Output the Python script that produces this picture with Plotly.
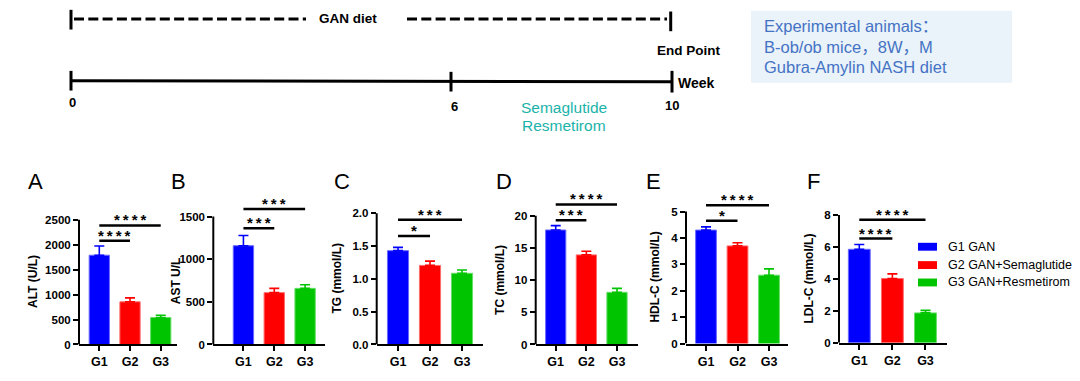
import plotly.graph_objects as go

# ---------------- data ----------------
categories = ["G1", "G2", "G3"]
group_labels = ["G1 GAN", "G2 GAN+Semaglutide", "G3 GAN+Resmetirom"]
panel_letters = ["A", "B", "C", "D", "E", "F"]
y_titles = ["ALT (U/L)", "AST U/L", "TG (mmol/L)", "TC (mmol/L)", "HDL-C (mmol/L)", "LDL-C (mmol/L)"]

alt_mean = [1790, 855, 540]
alt_err = [185, 80, 45]
ast_mean = [1158, 608, 658]
ast_err = [120, 50, 42]
tg_mean = [1.43, 1.205, 1.085]
tg_err = [0.05, 0.065, 0.05]
tc_mean = [17.8, 13.93, 8.11]
tc_err = [0.67, 0.56, 0.61]
hdl_mean = [4.30, 3.70, 2.59]
hdl_err = [0.12, 0.12, 0.24]
ldl_mean = [5.85, 4.02, 1.87]
ldl_err = [0.30, 0.29, 0.16]

y_ticks = [
    [0, 500, 1000, 1500, 2000, 2500],
    [0, 500, 1000, 1500],
    [0, 0.5, 1.0, 1.5, 2.0],
    [0, 5, 10, 15, 20],
    [0, 1, 2, 3, 4, 5],
    [0, 2, 4, 6, 8],
]
y_tickformat = ["d", "d", ".1f", "d", "d", "d"]

# significance brackets: (from group, to group, height, stars)
sig_A = [(0, 2, 2388, "****"), (0, 1, 2078, "****")]
sig_B = [(0, 2, 1589, "***"), (0, 1, 1362, "***")]
sig_C = [(0, 2, 1.90, "***"), (0, 1, 1.655, "*")]
sig_D = [(0, 2, 21.78, "****"), (0, 1, 19.33, "***")]
sig_E = [(0, 2, 5.24, "****"), (0, 1, 4.65, "*")]
sig_F = [(0, 2, 7.69, "****"), (0, 1, 6.52, "****")]

week_labels = ["0", "6", "10"]
treatments = ["Semaglutide", "Resmetirom"]
info_lines = ["Experimental animals：", "B-ob/ob mice，8W，M", "Gubra-Amylin NASH diet"]

means = [alt_mean, ast_mean, tg_mean, tc_mean, hdl_mean, ldl_mean]
errs = [alt_err, ast_err, tg_err, tc_err, hdl_err, ldl_err]
sigs = [sig_A, sig_B, sig_C, sig_D, sig_E, sig_F]

# ---------------- style / layout ----------------
W, H = 1080, 381
colors = ["#0000FF", "#FF0000", "#00C400"]
edge_colors = ["#6A6AFF", "#FF6A6A", "#66DD66"]
FONT = "Liberation Sans, Arial, Helvetica, sans-serif"
CJK = "Liberation Sans, Arial, Noto Sans CJK SC, sans-serif"
teal = "#1BB3AA"
boxblue = "#4472C4"


def px(x):
    return x / W


def py(y):
    return 1 - y / H


panel_x_px = [(79, 177), (213.3, 325), (376.7, 483), (535.7, 638), (686, 788), (839, 947.3)]
x_ranges = [(-0.661, 2.53), (-0.977, 2.645), (-0.666, 2.656), (-0.653, 2.685), (-0.635, 2.603), (-0.613, 2.659)]
y_zero_px = [350, 350, 350, 350, 349, 348.3]
y_range_top = [2960, 1731, 2.25, 22.95, 5.56, 9.13]
top_px = 200
letter_px = [(35, 184), (178, 184), (342, 184), (504, 184), (653, 184), (813, 184)]
ytitle_px = [(33, 286.5), (175.7, 285), (337, 283), (500.7, 284.7), (655, 282), (809, 283)]

fig = go.Figure()
shapes = []
annotations = []

for p in range(6):
    n = "" if p == 0 else str(p + 1)
    xa, ya = "x" + n, "y" + n
    for g in range(3):
        fig.add_trace(go.Bar(
            x=[g], y=[means[p][g]], xaxis=xa, yaxis=ya, width=0.66,
            marker=dict(color=colors[g], line=dict(color=edge_colors[g], width=1)),
            error_y=dict(type="data", array=[errs[p][g]], arrayminus=[0], symmetric=False,
                         color=colors[g], thickness=1.6, width=5),
            showlegend=False, hoverinfo="skip",
        ))
    x0, x1 = panel_x_px[p]
    fig.update_layout(**{
        "xaxis" + n: dict(
            domain=[px(x0), px(x1)], range=list(x_ranges[p]), anchor=ya,
            tickvals=[0, 1, 2], ticktext=categories, showline=True, linecolor="black",
            linewidth=2, ticks="outside", ticklen=5, tickwidth=2, tickcolor="black",
            showgrid=False, zeroline=False,
            tickfont=dict(family=FONT, size=12.5, color="black", weight="bold"),
        ),
        "yaxis" + n: dict(
            domain=[py(y_zero_px[p]), py(top_px)], range=[0, y_range_top[p]], anchor=xa,
            tickvals=y_ticks[p], tickformat=y_tickformat[p], showline=False,
            ticks="outside", ticklen=5, tickwidth=2, tickcolor="black",
            showgrid=False, zeroline=False,
            tickfont=dict(family=FONT, size=11.5, color="black", weight="bold"),
        ),
    })
    # y axis line stopping at the top tick
    shapes.append(dict(type="line", xref=xa + " domain", yref=ya, x0=0, x1=0,
                       y0=0, y1=y_ticks[p][-1], line=dict(color="black", width=2)))
    # significance brackets
    for (i, j, h, s) in sigs[p]:
        shapes.append(dict(type="line", xref=xa, yref=ya, x0=i, x1=j, y0=h, y1=h,
                           line=dict(color="black", width=2.5)))
        annotations.append(dict(xref=xa, yref=ya, x=(i + j) / 2, y=h, text="\u2009".join(s),
                                showarrow=False, yanchor="bottom", yshift=-5,
                                font=dict(family=FONT, size=15, color="black", weight="bold")))
    lx, ly = letter_px[p]
    annotations.append(dict(xref="paper", yref="paper", x=px(lx), y=py(ly), text=panel_letters[p],
                            showarrow=False, xanchor="center", yanchor="middle",
                            font=dict(family=FONT, size=22, color="black")))
    tx, ty = ytitle_px[p]
    annotations.append(dict(xref="paper", yref="paper", x=px(tx), y=py(ty), text=y_titles[p],
                            showarrow=False, textangle=-90, xanchor="center", yanchor="middle",
                            font=dict(family=FONT, size=12, color="black", weight="bold")))

# legend (manual)
leg_rows = [250.7, 269.3, 287]
for g in range(3):
    shapes.append(dict(type="rect", xref="paper", yref="paper", x0=px(918), x1=px(937),
                       y0=py(leg_rows[g] + 4), y1=py(leg_rows[g] - 4),
                       fillcolor=colors[g], line=dict(width=0)))
    annotations.append(dict(xref="paper", yref="paper", x=px(946), y=py(leg_rows[g]),
                            text=group_labels[g], showarrow=False, xanchor="left", yanchor="middle",
                            font=dict(family=FONT, size=12.5, color="black")))

# ---------------- timeline schematic ----------------
blk = dict(color="black", width=3)
shapes += [
    dict(type="line", xref="paper", yref="paper", x0=px(74), x1=px(306), y0=py(19.3), y1=py(19.3),
         line=dict(color="black", width=3, dash="10px,4.3px")),
    dict(type="line", xref="paper", yref="paper", x0=px(407), x1=px(667), y0=py(19.3), y1=py(19.3),
         line=dict(color="black", width=3, dash="10px,4.3px")),
    dict(type="line", xref="paper", yref="paper", x0=px(71), x1=px(71), y0=py(10), y1=py(30), line=blk),
    dict(type="line", xref="paper", yref="paper", x0=px(670.7), x1=px(670.7), y0=py(11.7), y1=py(31.7), line=blk),
    dict(type="line", xref="paper", yref="paper", x0=px(71), x1=px(672), y0=py(82), y1=py(83), line=blk),
    dict(type="line", xref="paper", yref="paper", x0=px(71), x1=px(71), y0=py(72), y1=py(92), line=blk),
    dict(type="line", xref="paper", yref="paper", x0=px(451), x1=px(451), y0=py(73), y1=py(93), line=blk),
    dict(type="line", xref="paper", yref="paper", x0=px(672), x1=px(672), y0=py(72), y1=py(94), line=blk),
    dict(type="rect", xref="paper", yref="paper", x0=px(751), x1=px(1012), y0=py(84), y1=py(11),
         fillcolor="#EAF2FA", line=dict(width=0), layer="below"),
]


def txt(x, y, s, size, color="black", bold=True, anchor="center", family=FONT):
    annotations.append(dict(xref="paper", yref="paper", x=px(x), y=py(y), text=s, showarrow=False,
                            xanchor=anchor, yanchor="middle",
                            font=dict(family=family, size=size, color=color,
                                      weight="bold" if bold else "normal")))


txt(348, 19, "GAN diet", 13.5)
txt(688, 51, "End Point", 13.5)
txt(676, 84, "Week", 14, anchor="left")
week_px = [(72, 104), (454, 108), (672, 107)]
for lab, (wx, wy) in zip(week_labels, week_px):
    txt(wx, wy, lab, 13)
txt(564, 109, treatments[0], 15.5, color=teal, bold=False)
txt(564, 128, treatments[1], 15.5, color=teal, bold=False)
for k, line in enumerate(info_lines):
    txt(762, 26.7 + 20.8 * k, line, 16.5, color=boxblue, bold=False, anchor="left", family=CJK)

fig.update_layout(
    width=W, height=H, autosize=False,
    margin=dict(l=0, r=0, t=0, b=0),
    paper_bgcolor="white", plot_bgcolor="white",
    shapes=shapes, annotations=annotations,
    bargap=0.3,
)

fig.write_html("out.html", config={"displayModeBar": False},
               post_script="document.body.style.margin='0';")
